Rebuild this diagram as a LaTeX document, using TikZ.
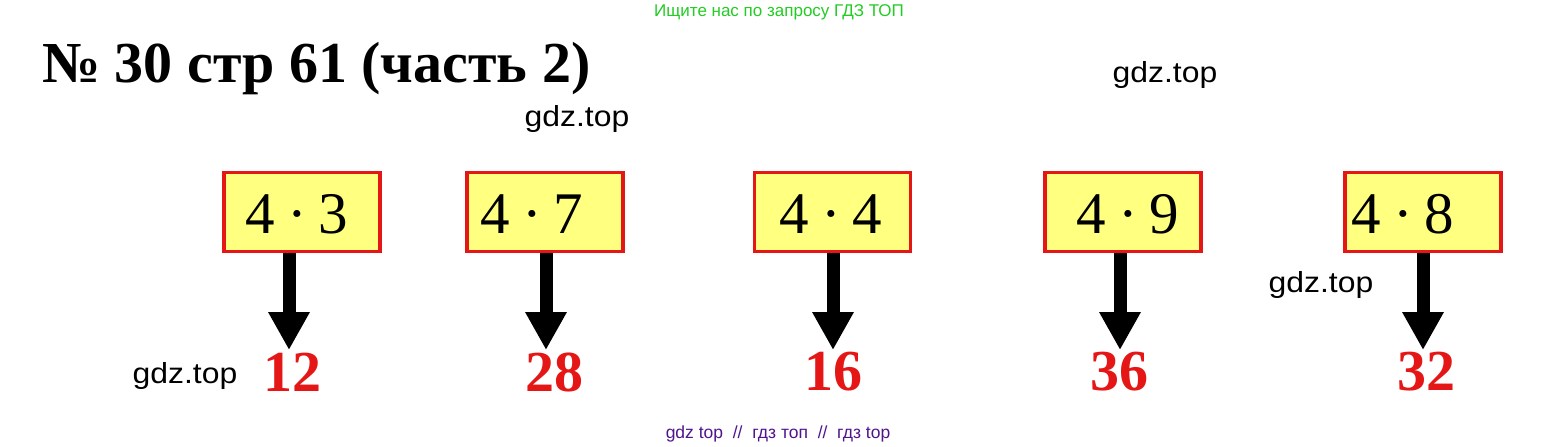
\documentclass[tikz,border=0pt]{standalone}
\usepackage{fontspec}
\setmainfont{Liberation Serif}
\newfontfamily\wmfont[FakeStretch=1.1]{Liberation Sans}
\newfontfamily\notefont{Liberation Sans}
\usetikzlibrary{arrows.meta}
\definecolor{boxred}{RGB}{228,22,22}
\definecolor{boxyellow}{RGB}{255,255,128}
\definecolor{notegreen}{RGB}{34,204,34}
\definecolor{notepurple}{RGB}{80,20,140}
\newcommand{\dotgap}{\hspace{0.2em}·\hspace{0.2em}}

\begin{document}
\begin{tikzpicture}[x=1pt, y=-1pt, box/.style={draw=boxred, fill=boxyellow, line width=3.5pt, minimum width=156pt, minimum height=79pt, inner sep=0pt}, prod/.style={inner sep=0pt, font=\fontsize{59}{59}\selectfont}, result/.style={inner sep=0pt, text=boxred, font=\bfseries\fontsize{58}{58}\selectfont}, arrow/.style={line width=13pt, -{Triangle[length=38pt, width=39pt]}}, watermark/.style={inner sep=0pt, font=\wmfont\fontsize{29}{29}\selectfont}]
		\useasboundingbox (0,0) rectangle (1558,447);

		\node (note)[inner sep=0pt, text=notegreen, font=\notefont\fontsize{17}{17}\selectfont] at (779,12){Ищите нас по запросу ГДЗ ТОП};
		\node (title)[inner sep=0pt, anchor=base west, font=\bfseries\fontsize{58}{58}\selectfont] at (42,82){№ 30 стр 61 (часть 2)};

		\node (b1)[box] at (302,212){};
		\node (b2)[box] at (545,212){};
		\node (b3)[box] at (832.5,212){};
		\node (b4)[box] at (1123,212){};
		\node (b5)[box] at (1423,212){};

		\node (p1)[prod] at (297,214){4\dotgap 3};
		\node (p2)[prod] at (532,214){4\dotgap 7};
		\node (p3)[prod] at (831,214){4\dotgap 4};
		\node (p4)[prod] at (1128,214){4\dotgap 9};
		\node (p5)[prod] at (1403,214){4\dotgap 8};

		\node (r1)[result] at (292,372){12};
		\node (r2)[result] at (554,372){28};
		\node (r3)[result] at (833,372){16};
		\node (r4)[result] at (1119,372){36};
		\node (r5)[result] at (1426,372){32};

		\coordinate (t1) at (289,350);
		\coordinate (t2) at (546,350);
		\coordinate (t3) at (833,350);
		\coordinate (t4) at (1120,350);
		\coordinate (t5) at (1423,350);

		\draw [arrow](b1.south -| t1) -- (t1);
		\draw [arrow](b2.south -| t2) -- (t2);
		\draw [arrow](b3.south -| t3) -- (t3);
		\draw [arrow](b4.south -| t4) -- (t4);
		\draw [arrow](b5.south -| t5) -- (t5);

		\node (w1)[watermark] at (1165,75){gdz.top};
		\node (w2)[watermark] at (577,119){gdz.top};
		\node (w3)[watermark] at (1321,285){gdz.top};
		\node (w4)[watermark] at (185,376){gdz.top};

		\node (foot)[inner sep=0pt, text=notepurple, font=\notefont\fontsize{17.5}{17.5}\selectfont] at (778,434){gdz top\ \ //\ \ гдз топ\ \ //\ \ гдз top};
	\end{tikzpicture}
\end{document}
